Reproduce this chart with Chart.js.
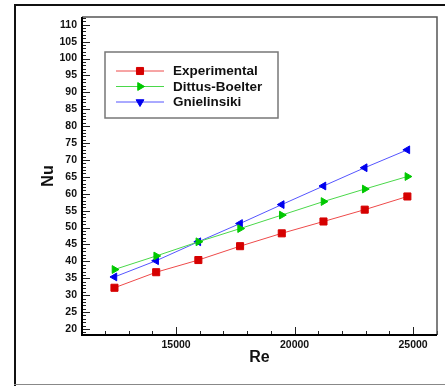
<!DOCTYPE html>
<html>
<head>
<meta charset="utf-8">
<title>Nu vs Re</title>
<script src="https://cdn.jsdelivr.net/npm/chart.js@4.4.0/dist/chart.umd.min.js"></script>
<style>
    body { margin: 0; background: #ffffff; }
    #wrap { position: relative; width: 445px; height: 386px; }
</style>
</head>
<body>
<div id="wrap"><canvas id="nuChart" width="445" height="386"></canvas></div>
<script>
// Reynolds numbers of the measurement points
const reValues = [12400, 14160, 15940, 17700, 19460, 21220, 22960, 24760];

// Nusselt numbers for each series
const experimentalNu = [32.2, 36.8, 40.4, 44.5, 48.3, 51.8, 55.3, 59.2];
const dittusBoelterNu = [37.6, 41.6, 45.8, 49.7, 53.7, 57.7, 61.4, 65.1];
const gnielinskiNu = [35.4, 40.2, 45.8, 51.2, 56.8, 62.3, 67.7, 73.0];

// Labelled tick values
const reTicks = [15000, 20000, 25000];
const nuTicks = [20, 25, 30, 35, 40, 45, 50, 55, 60, 65, 70, 75, 80, 85, 90, 95, 100, 105, 110];

const seriesNames = ['Experimental', 'Dittus-Boelter', 'Gnielinsiki'];

const FONT = '"Liberation Sans", Arial, sans-serif';

function toPoints(ys) {
    return reValues.map((x, i) => ({ x: x, y: ys[i] }));
}

// Draws the frame, inward ticks, legend box and outer border
const decorPlugin = {
    id: 'decor',
    afterDraw(chart) {
        const ctx = chart.ctx;
        const area = chart.chartArea;
        const xs = chart.scales.x;
        const ys = chart.scales.y;

        ctx.save();

        // minor / major ticks on the left axis (pointing inward)
        ctx.strokeStyle = '#222';
        ctx.lineWidth = 1;
        for (let v = 19; v <= 112; v++) {
            const py = Math.round(ys.getPixelForValue(v)) + 0.5;
            const len = v % 5 === 0 ? 8 : 4;
            ctx.beginPath();
            ctx.moveTo(area.left, py);
            ctx.lineTo(area.left + len, py);
            ctx.stroke();
        }
        // ticks on the bottom axis
        for (let v = 12000; v <= 26000; v += 1000) {
            const px = Math.round(xs.getPixelForValue(v)) + 0.5;
            const len = v % 5000 === 0 ? 8 : 4;
            ctx.beginPath();
            ctx.moveTo(px, area.bottom);
            ctx.lineTo(px, area.bottom - len);
            ctx.stroke();
        }

        // plot frame
        ctx.strokeStyle = '#555';
        ctx.lineWidth = 1.5;
        ctx.beginPath();
        ctx.moveTo(area.left, area.top);
        ctx.lineTo(area.right, area.top);
        ctx.lineTo(area.right, area.bottom);
        ctx.stroke();
        ctx.strokeStyle = '#000';
        ctx.lineWidth = 2;
        ctx.beginPath();
        ctx.moveTo(area.left, area.top);
        ctx.lineTo(area.left, area.bottom);
        ctx.lineTo(area.right, area.bottom);
        ctx.stroke();

        // legend
        const lx = 105, ly = 52, lw = 173, lh = 66;
        ctx.fillStyle = '#fff';
        ctx.fillRect(lx, ly, lw, lh);
        ctx.strokeStyle = '#777';
        ctx.lineWidth = 1.5;
        ctx.strokeRect(lx, ly, lw, lh);
        const legendRotation = [0, 90, 180];
        chart.data.datasets.forEach((ds, i) => {
            const rowY = 71 + i * 15.5;
            ctx.strokeStyle = ds.borderColor;
            ctx.lineWidth = 1;
            ctx.beginPath();
            ctx.moveTo(116, rowY);
            ctx.lineTo(164, rowY);
            ctx.stroke();
            ctx.fillStyle = ds.pointBackgroundColor;
            ctx.strokeStyle = ds.pointBorderColor;
            Chart.helpers.drawPoint(ctx, {
                pointStyle: ds.pointStyle,
                rotation: legendRotation[i],
                radius: ds.pointRadius,
                borderWidth: 1
            }, 140, rowY);
            ctx.fillStyle = '#111';
            ctx.font = 'bold 13.5px ' + FONT;
            ctx.textBaseline = 'middle';
            ctx.textAlign = 'left';
            ctx.fillText(ds.label, 173, rowY + 0.5);
        });

        // outer figure border
        ctx.strokeStyle = '#111';
        ctx.lineWidth = 2;
        ctx.beginPath();
        ctx.moveTo(15, 386);
        ctx.lineTo(15, 5);
        ctx.lineTo(445, 5);
        ctx.stroke();
        ctx.strokeStyle = '#888';
        ctx.lineWidth = 1;
        ctx.beginPath();
        ctx.moveTo(14, 384.5);
        ctx.lineTo(445, 384.5);
        ctx.stroke();

        ctx.restore();
    }
};

function renderChart() {
    const ctx = document.getElementById('nuChart').getContext('2d');
    new Chart(ctx, {
        type: 'line',
        data: {
            datasets: [
                {
                    label: seriesNames[0],
                    data: toPoints(experimentalNu),
                    borderColor: '#ee4a4a',
                    borderWidth: 1,
                    pointStyle: 'rect',
                    pointRadius: 5,
                    pointRotation: 0,
                    pointBackgroundColor: '#d60000',
                    pointBorderColor: '#d60000',
                    pointBorderWidth: 1
                },
                {
                    label: seriesNames[1],
                    data: toPoints(dittusBoelterNu),
                    borderColor: '#4ad84a',
                    borderWidth: 1,
                    pointStyle: 'triangle',
                    pointRadius: 4.5,
                    pointRotation: 90,
                    pointBackgroundColor: '#00c800',
                    pointBorderColor: '#00c800',
                    pointBorderWidth: 1
                },
                {
                    label: seriesNames[2],
                    data: toPoints(gnielinskiNu),
                    borderColor: '#5555ff',
                    borderWidth: 1,
                    pointStyle: 'triangle',
                    pointRadius: 4.5,
                    pointRotation: -90,
                    pointBackgroundColor: '#0000ee',
                    pointBorderColor: '#0000ee',
                    pointBorderWidth: 1
                }
            ]
        },
        options: {
            responsive: false,
            animation: false,
            layout: { padding: { top: 17, right: 8, left: 0, bottom: 0 } },
            plugins: {
                legend: { display: false },
                tooltip: { enabled: false }
            },
            scales: {
                x: {
                    type: 'linear',
                    min: 11030,
                    max: 26010,
                    afterFit: s => { s.height = 51; },
                    afterBuildTicks: s => { s.ticks = reTicks.map(v => ({ value: v })); },
                    grid: { display: false, drawTicks: false },
                    border: { display: false },
                    ticks: {
                        padding: 4,
                        color: '#111',
                        maxRotation: 0,
                        font: { family: FONT, size: 10.5, weight: 'bold' },
                        callback: v => String(v)
                    },
                    title: {
                        display: true,
                        text: 'Re',
                        color: '#111',
                        padding: { top: 0, bottom: 18.4 },
                        font: { family: FONT, size: 16, weight: 'bold' }
                    }
                },
                y: {
                    min: 18.23,
                    max: 112.28,
                    afterFit: s => { s.width = 82; },
                    afterBuildTicks: s => { s.ticks = nuTicks.map(v => ({ value: v })); },
                    grid: { display: false, drawTicks: false },
                    border: { display: false },
                    ticks: {
                        padding: 5,
                        color: '#111',
                        font: { family: FONT, size: 10.5, weight: 'bold' },
                        callback: v => String(v)
                    },
                    title: {
                        display: true,
                        text: 'Nu',
                        color: '#111',
                        padding: { top: 39.4, bottom: 0 },
                        font: { family: FONT, size: 16, weight: 'bold' }
                    }
                }
            }
        },
        plugins: [decorPlugin]
    });
}

window.onload = renderChart;
</script>
</body>
</html>
